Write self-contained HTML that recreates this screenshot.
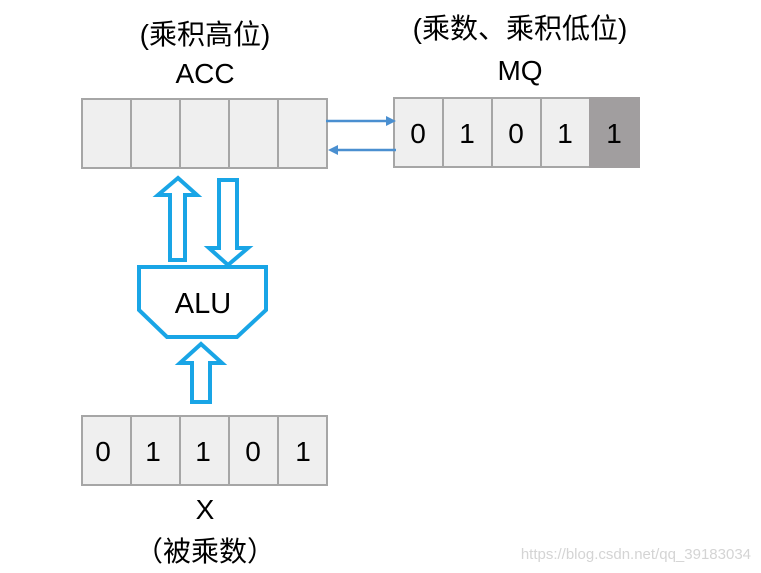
<!DOCTYPE html>
<html><head><meta charset="utf-8"><style>
html,body{margin:0;padding:0;background:#fff;}
svg{display:block}
text{font-family:"Liberation Sans","Noto Sans CJK SC",sans-serif;fill:#000}
</style></head><body>
<svg width="761" height="573" viewBox="0 0 761 573" xmlns="http://www.w3.org/2000/svg">
<text x="205" y="44" font-size="28" text-anchor="middle">(乘积高位)</text>
<text x="205" y="83" font-size="28" text-anchor="middle">ACC</text>
<text x="520" y="38" font-size="28" text-anchor="middle">(乘数、乘积低位)</text>
<text x="520" y="80" font-size="28" text-anchor="middle">MQ</text>
<g fill="#efefef" stroke="#a6a6a6" stroke-width="2">
<rect x="82" y="99" width="49" height="69"/><rect x="131" y="99" width="49" height="69"/><rect x="180" y="99" width="49" height="69"/><rect x="229" y="99" width="49" height="69"/><rect x="278" y="99" width="49" height="69"/>
<rect x="394" y="98" width="49" height="69"/><rect x="443" y="98" width="49" height="69"/><rect x="492" y="98" width="49" height="69"/><rect x="541" y="98" width="49" height="69"/><rect x="590" y="98" width="49" height="69" fill="#a19e9f" stroke="#a19e9f"/>
<rect x="82" y="416" width="49" height="69"/><rect x="131" y="416" width="49" height="69"/><rect x="180" y="416" width="49" height="69"/><rect x="229" y="416" width="49" height="69"/><rect x="278" y="416" width="49" height="69"/>
</g>
<g font-size="28" text-anchor="middle">
<text x="418" y="143">0</text><text x="467" y="143">1</text><text x="516" y="143">0</text><text x="565" y="143">1</text><text x="614" y="143">1</text>
<text x="103" y="461">0</text><text x="153" y="461">1</text><text x="203" y="461">1</text><text x="253" y="461">0</text><text x="303" y="461">1</text>
</g>
<g stroke="#4a8fd0" stroke-width="2.5" fill="#4a8fd0">
<line x1="326" y1="121" x2="388" y2="121"/><path d="M396 121 L386 116 L386 126Z" stroke="none"/>
<line x1="396" y1="150" x2="336" y2="150"/><path d="M328 150 L338 145 L338 155Z" stroke="none"/>
</g>
<g fill="#fff" stroke="#19a5e6" stroke-width="4" stroke-linejoin="miter">
<path d="M178 178 L197 195 L185 195 L185 260 L170 260 L170 195 L158 195 Z"/>
<path d="M219 180 L237 180 L237 248 L248 248 L228 265 L209 248 L219 248 Z"/>
<path d="M139 267 L266 267 L266 310 L237 337 L167 337 L139 310 Z"/>
<path d="M201 344 L222 363 L210 363 L210 402 L192 402 L192 363 L180 363 Z"/>
</g>
<text x="203" y="313" font-size="29" text-anchor="middle">ALU</text>
<text x="205" y="519" font-size="28" text-anchor="middle">X</text>
<text x="205" y="561" font-size="28" text-anchor="middle">（被乘数）</text>
<text x="751" y="559" font-size="15" text-anchor="end" style="fill:#d4d4d4">https://blog.csdn.net/qq_39183034</text>
</svg>
</body></html>
